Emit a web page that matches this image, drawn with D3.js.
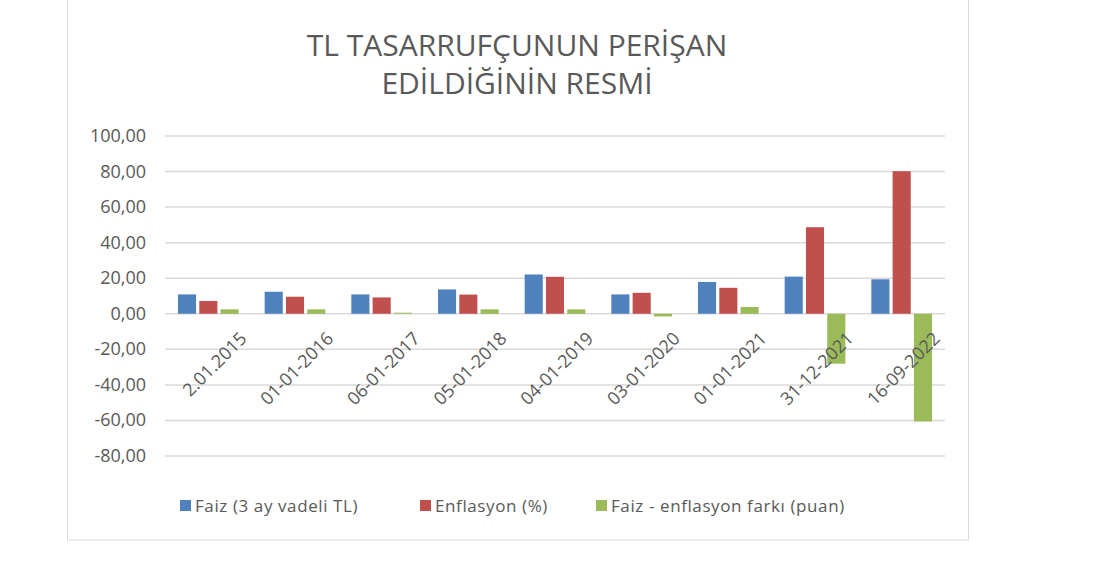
<!DOCTYPE html>
<html>
<head>
<meta charset="utf-8">
<script src="https://cdn.jsdelivr.net/npm/d3@7"></script>
<style>
  body { margin: 0; background: #fff; font-family: 'Open Sans', 'DejaVu Sans', sans-serif; }
</style>
</head>
<body>
<div class="chart"></div>
<script>
const dates = ['2.01.2015', '01-01-2016', '06-01-2017', '05-01-2018', '04-01-2019', '03-01-2020', '01-01-2021', '31-12-2021', '16-09-2022'];
const faiz = [10.9, 12.4, 10.9, 13.7, 22.1, 10.9, 17.9, 20.9, 19.4];
const enflasyon = [7.2, 9.6, 9.2, 10.8, 20.8, 11.8, 14.6, 48.7, 80.2];
const fark = [2.5, 2.5, 0.6, 2.5, 2.5, -1.5, 3.8, -28.1, -60.6];
const seriesNames = ['Faiz (3 ay vadeli TL)', 'Enflasyon (%)', 'Faiz - enflasyon farkı (puan)'];
const colors = ['#4f81bd', '#c0504d', '#9bbb59'];
const yTicks = [100, 80, 60, 40, 20, 0, -20, -40, -60, -80];

const width = 1102, height = 568;
const plot = { left: 165, right: 945, top: 136, bottom: 456 };

const svg = d3.select('.chart').append('svg')
  .attr('width', width)
  .attr('height', height);

// chart frame
svg.append('rect')
  .attr('x', 67.5).attr('y', -1).attr('width', 901).attr('height', 541)
  .attr('fill', 'none').attr('stroke', '#d9d9d9');

const title = svg.append('text')
  .attr('text-anchor', 'middle')
  .attr('font-size', 30)
  .attr('fill', '#595959');
title.append('tspan').attr('x', 517).attr('y', 56).text('TL TASARRUFÇUNUN PERİŞAN');
title.append('tspan').attr('x', 517).attr('y', 94).text('EDİLDİĞİNİN RESMİ');

const y = d3.scaleLinear().domain([-80, 100]).range([plot.bottom, plot.top]);
const x0 = d3.scaleBand().domain(dates).range([plot.left, plot.right]).paddingInner(0.3).paddingOuter(0.15);
const x1 = d3.scaleBand().domain([0, 1, 2]).range([0, x0.bandwidth()]).paddingInner(0.15);

svg.append('g').selectAll('line').data(yTicks).enter().append('line')
  .attr('x1', plot.left).attr('x2', plot.right)
  .attr('y1', d => y(d)).attr('y2', d => y(d))
  .attr('stroke', '#d9d9d9').attr('stroke-width', 1.5);

svg.append('g').selectAll('text').data(yTicks).enter().append('text')
  .attr('x', 146).attr('y', d => y(d) + 6)
  .attr('text-anchor', 'end').attr('font-size', 18).attr('fill', '#595959')
  .text(d => d3.format('.2f')(d).replace('.', ',').replace('−', '-'));

const allSeries = [faiz, enflasyon, fark];
allSeries.forEach((vals, s) => {
  svg.append('g').selectAll('rect').data(vals).enter().append('rect')
    .attr('x', (d, i) => x0(dates[i]) + x1(s))
    .attr('width', x1.bandwidth())
    .attr('y', d => y(Math.max(0, d)))
    .attr('height', d => Math.abs(y(d) - y(0)))
    .attr('fill', colors[s]);
});

// x labels, rotated
svg.append('g').selectAll('text').data(dates).enter().append('text')
  .attr('transform', d => `translate(${x0(d) + x0.bandwidth() * 1.15},${y(0) + 26}) rotate(-45)`)
  .attr('text-anchor', 'end').attr('font-size', 18).attr('fill', '#595959')
  .text(d => d);

const legend = svg.append('g').attr('transform', 'translate(180,512)');
const legX = [0, 240, 416];
seriesNames.forEach((name, i) => {
  legend.append('rect').attr('x', legX[i]).attr('y', -12).attr('width', 11).attr('height', 11).attr('fill', colors[i]);
  legend.append('text').attr('x', legX[i] + 15).attr('y', 0).attr('font-size', 17)
    .attr('letter-spacing', 0.6).attr('fill', '#595959').text(name);
});
</script>
</body>
</html>
